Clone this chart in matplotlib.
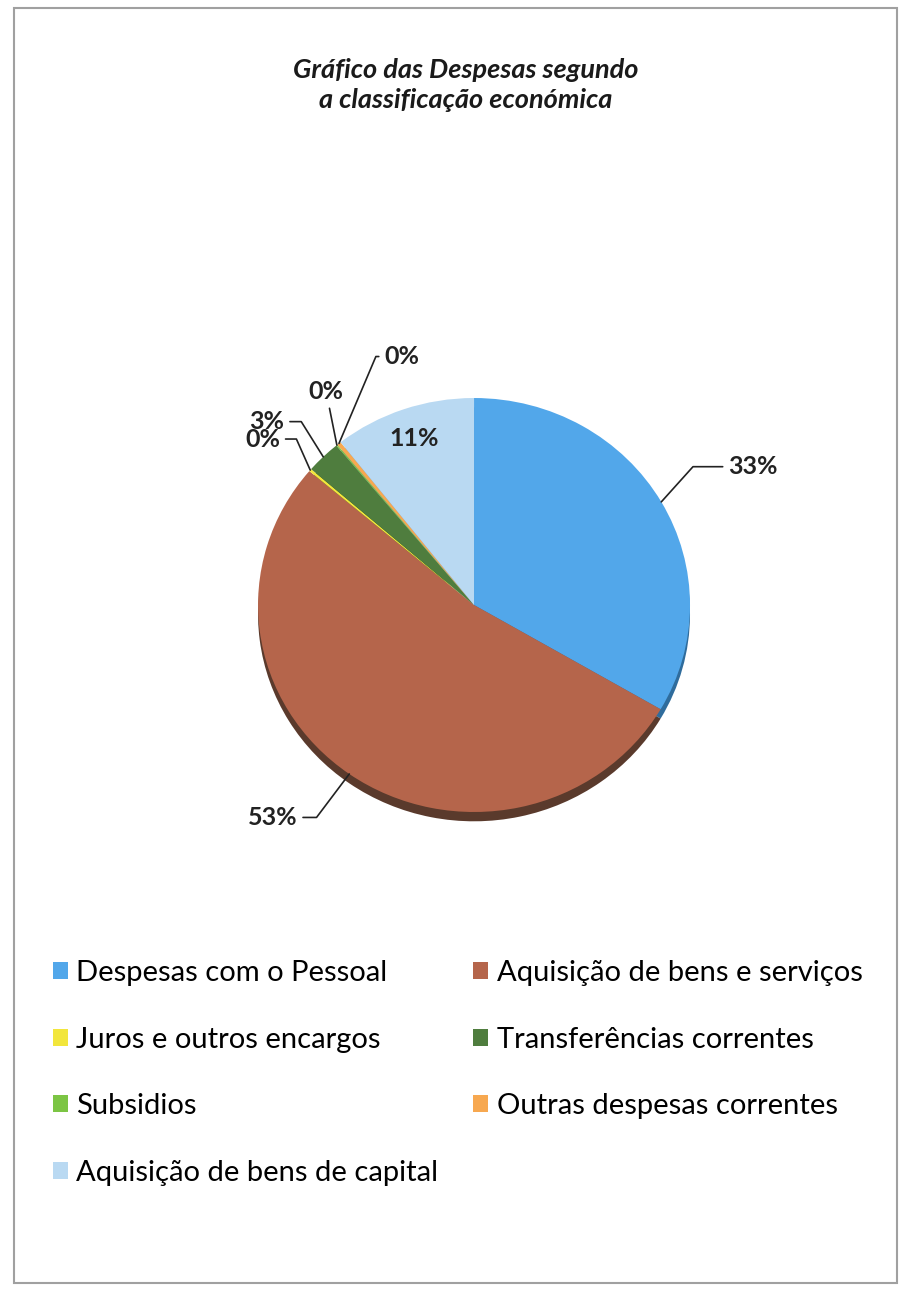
import matplotlib
matplotlib.use("Agg")
import matplotlib.pyplot as plt
from matplotlib.patches import Rectangle
import numpy as np

plt.rcParams['font.family'] = ['Lato', 'DejaVu Sans']

# dados: despesas segundo a classificação económica (% do total)
categorias = ['Despesas com o Pessoal', 'Aquisição de bens e serviços',
              'Juros e outros encargos', 'Transferências correntes',
              'Subsidios', 'Outras despesas correntes',
              'Aquisição de bens de capital']
valores = [33.4, 52.8, 0.2, 2.6, 0.1, 0.3, 10.6]
cores = ['#52a7ea', '#b5654b', '#f2e63c', '#4f7d3e', '#7cc544', '#f7a850', '#b9d9f2']
cores_sombra = ['#2f6c9c', '#5a3a2c', '#9a9020', '#2c4a22', '#4a7a28', '#a06a30', '#7f9cb3']

fig = plt.figure(figsize=(9.03, 12.91), dpi=100)

# moldura da página
fig.patches.append(Rectangle((14 / 903, 1 - 1283 / 1291), 883 / 903, 1275 / 1291,
                             transform=fig.transFigure, fill=False,
                             ec='#a0a0a0', lw=1.5))

fig.text(466 / 903, 1 - 85 / 1291, 'Gráfico das Despesas segundo\na classificação económica',
         ha='center', va='center', style='italic', weight='bold',
         fontsize=19.5, linespacing=1.3, color='#1a1a1a')

# pizza ligeiramente achatada (efeito 3D do original)
ax = fig.add_axes([0.2738, 0.355, 0.5023, 0.3367])
ax.axis('off')

# "profundidade" do gráfico 3D
ax.pie(valores, colors=cores_sombra, startangle=90, counterclock=False,
       center=(0.0, -0.045), wedgeprops=dict(linewidth=0))
wedges, _ = ax.pie(valores, colors=cores, startangle=90, counterclock=False,
                   wedgeprops=dict(linewidth=0))
ax.set_aspect('auto')
ax.set_xlim(-1.05, 1.05)
ax.set_ylim(-1.1, 1.0)

# rótulos com linhas de chamada
# (deslocamento do texto em relação ao ponto na borda, em unidades do raio,
#  e inclinação do traço oblíquo)
deslocamentos = [(0.31, 0.17, 48), (-0.24, -0.21, 53), (-0.14, 0.15, 114),
                 (-0.18, 0.17, 122), (-0.05, 0.26, None), (0.21, 0.42, 67), None]
total = sum(valores)
for w, v, d in zip(wedges, valores, deslocamentos):
    ang = np.deg2rad((w.theta1 + w.theta2) / 2)
    txt = f'{round(v / total * 100):.0f}%'
    if d is None:
        ax.text(0.85 * np.cos(ang), 0.85 * np.sin(ang), txt, ha='center', va='center',
                fontsize=18, weight='bold', color='#222222')
        continue
    px, py = np.cos(ang), np.sin(ang)
    tx, ty = px + d[0], py + d[1]
    if d[2] is None:
        ha, estilo = 'center', 'arc3'
    else:
        ha = 'left' if d[0] > 0 else 'right'
        estilo = f'angle,angleA=0,angleB={d[2]},rad=0'
    ax.annotate(txt, xy=(px, py), xytext=(tx, ty), ha=ha, va='center',
                fontsize=18, weight='bold', color='#222222',
                arrowprops=dict(arrowstyle='-', color='#222222', lw=1.2,
                                shrinkA=2, shrinkB=0, connectionstyle=estilo))

# legenda em duas colunas, preenchida por linhas
ordem = [0, 2, 4, 6, 1, 3, 5]
fig.legend([wedges[i] for i in ordem], [categorias[i] for i in ordem],
           loc='upper left', bbox_to_anchor=(53 / 903, 1 - 960 / 1291),
           ncol=2, frameon=False, fontsize=21, handlelength=0.5, handleheight=0.5,
           handletextpad=0.3, labelspacing=1.39, columnspacing=1.2, borderpad=0,
           borderaxespad=0)

fig.savefig('out.png', dpi=100, facecolor='white')
